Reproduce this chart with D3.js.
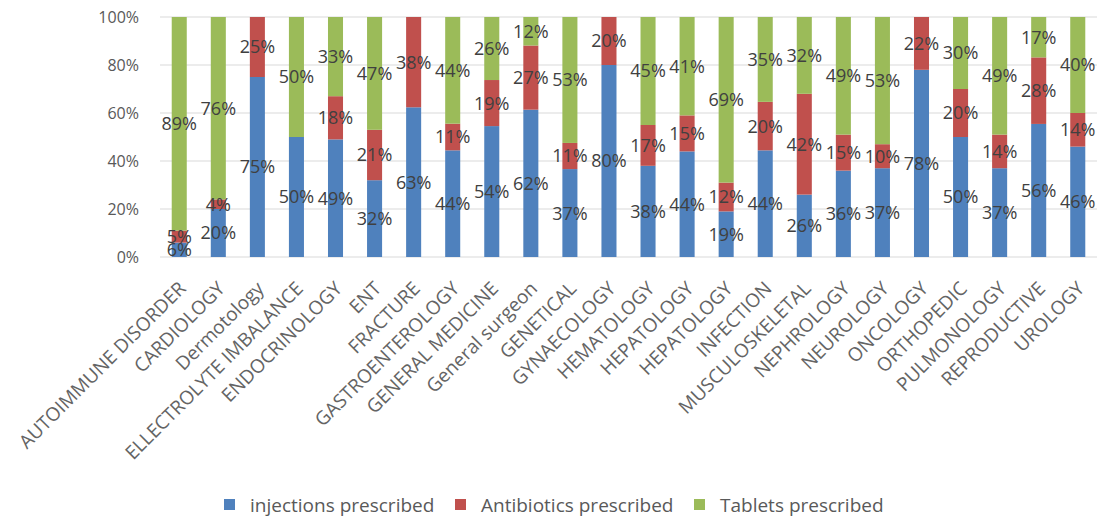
<!DOCTYPE html>
<html>
<head>
<meta charset="utf-8">
<script src="https://cdn.jsdelivr.net/npm/d3@7"></script>
<style>
  html, body { margin: 0; padding: 0; background: #fff; }
  svg { display: block; }
  text { font-family: "Open Sans", "Noto Sans", sans-serif; }
</style>
</head>
<body>
<svg id="chart" width="1099" height="519"></svg>
<script>
const categories = ["AUTOIMMUNE DISORDER", "CARDIOLOGY", "Dermotology", "ELLECTROLYTE IMBALANCE",
  "ENDOCRINOLOGY", "ENT", "FRACTURE", "GASTROENTEROLOGY", "GENERAL MEDICINE", "General surgeon",
  "GENETICAL", "GYNAECOLOGY", "HEMATOLOGY", "HEPATOLOGY", "HEPATOLOGY", "INFECTION",
  "MUSCULOSKELETAL", "NEPHROLOGY", "NEUROLOGY", "ONCOLOGY", "ORTHOPEDIC", "PULMONOLOGY",
  "REPRODUCTIVE", "UROLOGY"];
const injections  = [6, 20, 75, 50, 49, 32, 63, 44, 54, 62, 37, 80, 38, 44, 19, 44, 26, 36, 37, 78, 50, 37, 56, 46];
const antibiotics = [5,  4, 25,  0, 18, 21, 38, 11, 19, 27, 11, 20, 17, 15, 12, 20, 42, 15, 10, 22, 20, 14, 28, 14];
const tablets     = [89, 76, 0, 50, 33, 47,  0, 44, 26, 12, 53,  0, 45, 41, 69, 35, 32, 49, 53,  0, 30, 49, 17, 40];
const seriesNames = ["injections prescribed", "Antibiotics prescribed", "Tablets prescribed"];
const seriesColors = ["#4f81bd", "#c0504d", "#9bbb59"];
const yTicks = [0, 0.2, 0.4, 0.6, 0.8, 1.0];

const svg = d3.select("#chart");
const plotLeft = 160, plotRight = 1097, plotTop = 17, plotBottom = 257;

const rows = categories.map((c, i) => ({
  idx: i, name: c,
  s0: injections[i], s1: antibiotics[i], s2: tablets[i]
}));
const keys = ["s0", "s1", "s2"];
const stacked = d3.stack().keys(keys).offset(d3.stackOffsetExpand)(rows);

const x = d3.scaleBand().domain(rows.map(d => d.idx)).range([plotLeft, plotRight])
  .paddingInner(0.615).paddingOuter(0.3);
const y = d3.scaleLinear().domain([0, 1]).range([plotBottom, plotTop]);

// gridlines
svg.append("g").selectAll("line").data(yTicks).join("line")
  .attr("x1", plotLeft).attr("x2", plotRight)
  .attr("y1", d => y(d)).attr("y2", d => y(d))
  .attr("stroke", "#d9d9d9").attr("stroke-width", 1);

// y axis labels
const yAxis = d3.axisLeft(y).tickValues(yTicks).tickFormat(d3.format(".0%")).tickSize(0).tickPadding(0);
const yg = svg.append("g").attr("transform", `translate(${plotLeft - 21},0)`).call(yAxis);
yg.select(".domain").remove();
yg.selectAll("text").attr("font-size", 16).attr("fill", "#595959")
  .style("font-family", "'Open Sans', sans-serif");

// bars
const layers = svg.append("g").selectAll("g").data(stacked).join("g")
  .attr("fill", (d, i) => seriesColors[i]);
layers.selectAll("rect").data(d => d).join("rect")
  .attr("x", d => x(d.data.idx))
  .attr("width", x.bandwidth())
  .attr("y", d => y(d[1]))
  .attr("height", d => Math.max(0, y(d[0]) - y(d[1])));

// data labels
const labelG = svg.append("g");
stacked.forEach((layer, li) => {
  layer.forEach(d => {
    const v = d.data[keys[li]];
    if (!v) return;
    labelG.append("text")
      .attr("x", x(d.data.idx) + x.bandwidth() / 2)
      .attr("y", y((d[0] + d[1]) / 2))
      .attr("dy", "0.36em")
      .attr("text-anchor", "middle")
      .attr("font-size", 18)
      .attr("fill", "#404040")
      .text(v + "%");
  });
});

// x axis labels
const xg = svg.append("g");
rows.forEach(d => {
  const cx = x(d.idx) + x.bandwidth() / 2 + 3;
  const cy = plotBottom + 28;
  xg.append("text")
    .attr("transform", `translate(${cx},${cy}) rotate(-45)`)
    .attr("text-anchor", "end")
    .attr("dy", "0.35em")
    .attr("font-size", 19)
    .attr("fill", "#646464")
    .text(d.name);
});

// legend
const legendItems = [
  { name: seriesNames[0], color: seriesColors[0], x: 250 },
  { name: seriesNames[1], color: seriesColors[1], x: 481 },
  { name: seriesNames[2], color: seriesColors[2], x: 720 }
];
const lg = svg.append("g");
legendItems.forEach(it => {
  lg.append("rect").attr("x", it.x - 26).attr("y", 499).attr("width", 11).attr("height", 11).attr("fill", it.color);
  lg.append("text").attr("x", it.x).attr("y", 505).attr("dy", "0.35em")
    .attr("font-size", 19).attr("fill", "#595959").text(it.name);
});
</script>
</body>
</html>
